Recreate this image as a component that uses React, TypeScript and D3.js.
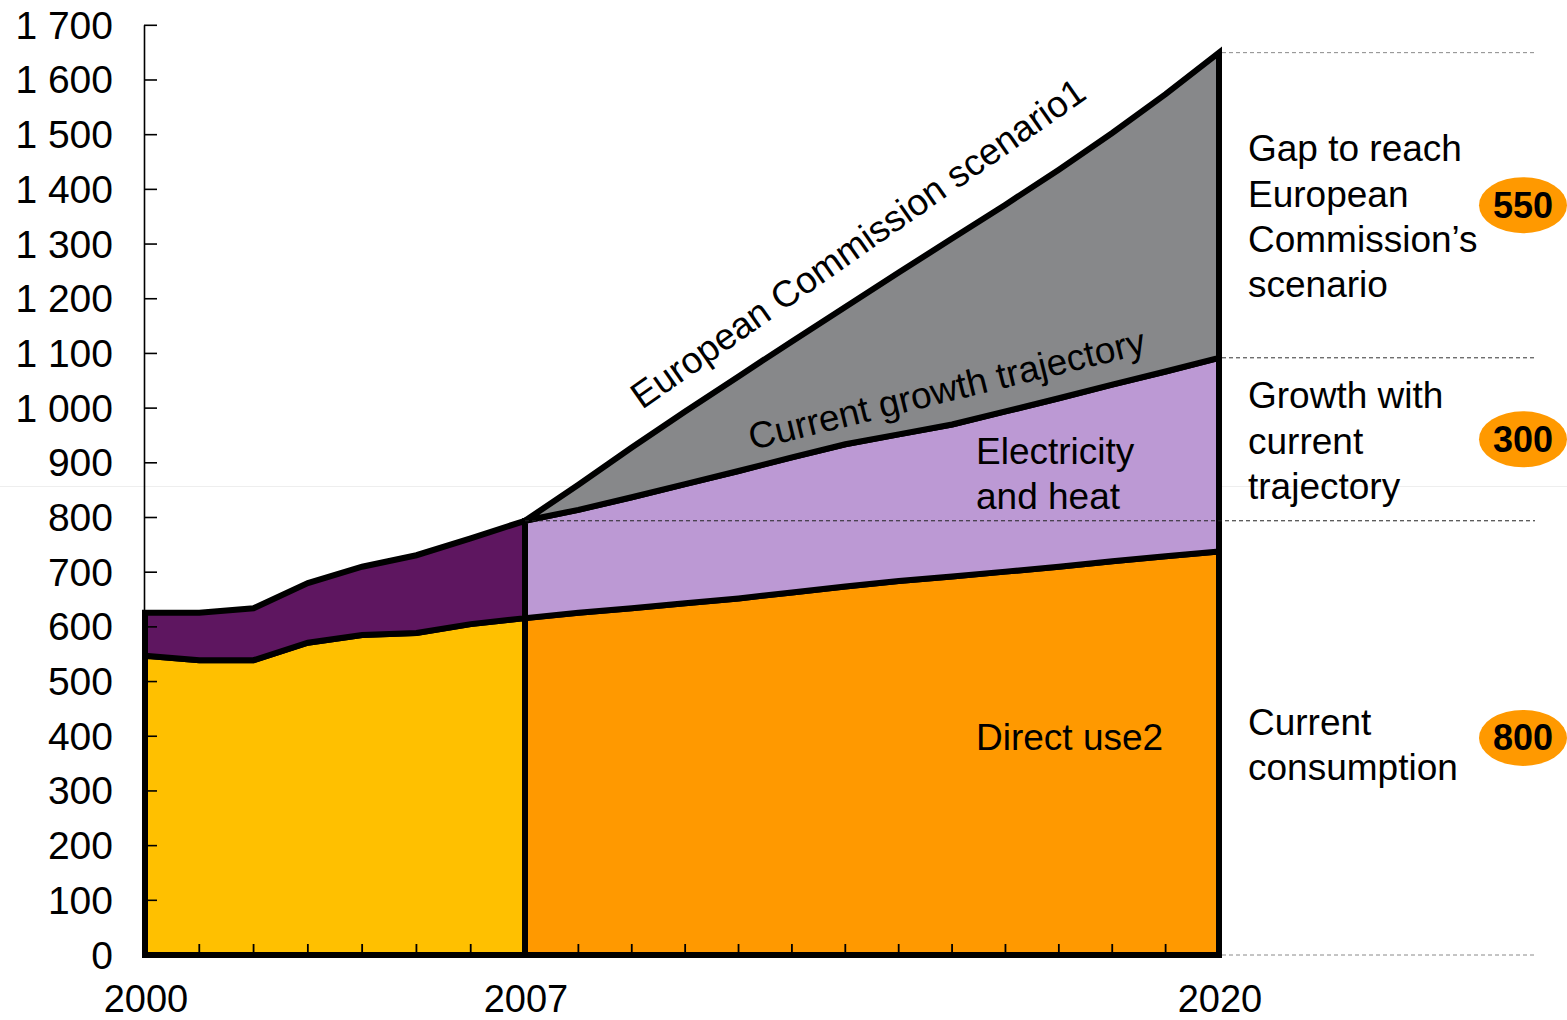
import React from "react";
import * as d3 from "d3";

// Historic split (2000-2007) and projections (2007-2020)
const histYears = [2000, 2001, 2002, 2003, 2004, 2005, 2006, 2007];
const histDirect = [547, 539, 539, 571, 585, 589, 605, 616];
const histTotal = [626, 626, 634, 680, 710, 731, 762, 794];

const futYears = [2007, 2008, 2009, 2010, 2011, 2012, 2013, 2014, 2015, 2016, 2017, 2018, 2019, 2020];
const futDirect = [616, 626, 634, 643, 652, 663, 674, 684, 692, 701, 710, 720, 729, 738];
const futCurrentGrowth = [794, 814, 837, 861, 885, 910, 934, 952, 970, 994, 1018, 1043, 1067, 1092];
const futCommission = [794, 860, 928, 994, 1058, 1122, 1185, 1248, 1310, 1372, 1436, 1503, 1574, 1650];

const yTicks = [0, 100, 200, 300, 400, 500, 600, 700, 800, 900, 1000, 1100, 1200, 1300, 1400, 1500, 1600, 1700];
const xLabels = [2000, 2007, 2020];

const badgeValues = ["550", "300", "800"];
const gapLines = ["Gap to reach", "European", "Commission\u2019s", "scenario"];
const growthLines = ["Growth with", "current", "trajectory"];
const currentLines = ["Current", "consumption"];

const W = 1567;
const H = 1020;
const FONT = "'Liberation Sans', Arial, Helvetica, sans-serif";

const x = d3.scaleLinear().domain([2000, 2007, 2020]).range([145, 525, 1219]);
const y = d3.scaleLinear().domain([0, 1700]).range([955, 25.3]);

const fmt = d3
  .formatLocale({ decimal: ",", thousands: " ", grouping: [3], currency: ["", ""] })
  .format(",d");

type Pt = { year: number; lo: number; hi: number };
const band = d3
  .area<Pt>()
  .x((d) => x(d.year))
  .y0((d) => y(d.lo))
  .y1((d) => y(d.hi));

const mk = (years: number[], lo: number[], hi: number[]): Pt[] =>
  years.map((yr, i) => ({ year: yr, lo: lo[i], hi: hi[i] }));

const zeros = (n: number) => new Array(n).fill(0);

export default function App() {
  const layers = [
    { d: mk(histYears, zeros(histYears.length), histDirect), fill: "#FFC000" },
    { d: mk(histYears, histDirect, histTotal), fill: "#5E1660" },
    { d: mk(futYears, zeros(futYears.length), futDirect), fill: "#FF9900" },
    { d: mk(futYears, futDirect, futCurrentGrowth), fill: "#BC99D4" },
    { d: mk(futYears, futCurrentGrowth, futCommission), fill: "#87888A" },
  ];

  const last = futYears.length - 1;
  const topLevel = futCommission[last];
  const midLevel = futCurrentGrowth[last];
  const baseLevel = futCurrentGrowth[0];

  const dashEnd = 1535;
  const xEnd = x(2020);

  const bandMids = [
    (y(topLevel) + y(midLevel)) / 2,
    (y(midLevel) + y(baseLevel)) / 2,
    (y(baseLevel) + y(0)) / 2,
  ];
  const blocks = [
    { lines: gapLines, off: 11 },
    { lines: growthLines, off: 1.5 },
    { lines: currentLines, off: 6.5 },
  ];
  const lh = 45.3;

  const innerTicks = d3.range(2001, 2020).filter((yr) => yr !== 2007);

  return (
    <svg
      width={W}
      height={H}
      style={{ position: "absolute", left: 0, top: 0, background: "#fff" }}
      fontFamily={FONT}
    >
      <rect x={0} y={0} width={W} height={H} fill="#fff" />
      <line x1={0} x2={W} y1={486.5} y2={486.5} stroke="#eeeeee" strokeWidth={1} />

      {/* reference levels on the right */}
      <line x1={xEnd + 3} x2={dashEnd} y1={y(topLevel)} y2={y(topLevel)} stroke="#8a8a8a" strokeWidth={1} strokeDasharray="4,3" />
      <line x1={xEnd + 3} x2={dashEnd} y1={y(midLevel)} y2={y(midLevel)} stroke="#333" strokeWidth={1} strokeDasharray="4,3" />
      <line x1={xEnd + 3} x2={dashEnd} y1={y(0)} y2={y(0)} stroke="#8a8a8a" strokeWidth={1} strokeDasharray="4,3" />

      {/* stacked bands */}
      {layers.map((l, i) => (
        <path key={i} d={band(l.d) || ""} fill={l.fill} stroke="#000" strokeWidth={6} strokeLinejoin="miter" strokeMiterlimit={6} />
      ))}

      {/* 2007 level carried across */}
      <line x1={x(2007)} x2={dashEnd} y1={y(baseLevel)} y2={y(baseLevel)} stroke="#222" strokeWidth={1} strokeDasharray="4,3" />

      {/* year ticks along the base */}
      {innerTicks.map((yr) => (
        <line key={yr} x1={x(yr)} x2={x(yr)} y1={y(0)} y2={y(0) - 11} stroke="#000" strokeWidth={1.8} />
      ))}

      {/* value axis */}
      <line x1={144.5} x2={144.5} y1={y(1700)} y2={y(0)} stroke="#000" strokeWidth={1.6} />
      {yTicks.map((t) => (
        <g key={t}>
          <line x1={144} x2={157} y1={y(t)} y2={y(t)} stroke="#000" strokeWidth={1.6} />
          <text x={113} y={y(t) + 13.5} textAnchor="end" fontSize={39} fill="#000">
            {fmt(t)}
          </text>
        </g>
      ))}

      {xLabels.map((yr) => (
        <text key={yr} x={x(yr) + 1} y={1012} textAnchor="middle" fontSize={38} fill="#000">
          {yr}
        </text>
      ))}

      {/* in-chart labels */}
      <text x={642} y={410} fontSize={37} fill="#000" transform="rotate(-35 642 410)">
        European Commission scenario1
      </text>
      <text x={752} y={450} fontSize={37} fill="#000" transform="rotate(-13.8 752 450)">
        Current growth trajectory
      </text>
      <text x={976} y={464} fontSize={37} fill="#000">
        Electricity
      </text>
      <text x={976} y={509} fontSize={37} fill="#000">
        and heat
      </text>
      <text x={976} y={750} fontSize={37} fill="#000">
        Direct use2
      </text>

      {/* right-hand annotations */}
      {blocks.map((b, bi) => {
        const c = bandMids[bi] + b.off;
        const n = b.lines.length;
        return (
          <g key={bi}>
            {b.lines.map((s, li) => (
              <text key={li} x={1248} y={c + (li - (n - 1) / 2) * lh + 13} fontSize={37} fill="#000">
                {s}
              </text>
            ))}
            <ellipse cx={1523} cy={bandMids[bi]} rx={44} ry={28} fill="#FF9900" />
            <text x={1523} y={bandMids[bi] + 12.5} textAnchor="middle" fontSize={36} fontWeight="bold" fill="#000">
              {badgeValues[bi]}
            </text>
          </g>
        );
      })}
    </svg>
  );
}
